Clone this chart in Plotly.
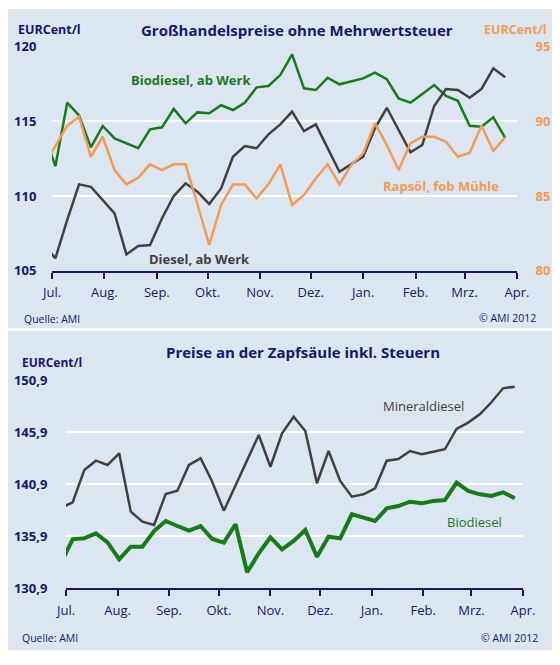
import pandas as pd
import plotly.graph_objects as go

# weekly dates (first point lies just before Jul 1 and is clipped by the axis)
wholesale_dates = pd.date_range("2011-06-26", periods=40, freq="7D")
pump_dates = pd.date_range("2011-06-28", periods=40, freq="7D")

month_ticks = ["2011-07-01", "2011-08-01", "2011-09-01", "2011-10-01", "2011-11-01",
               "2011-12-01", "2012-01-01", "2012-02-01", "2012-03-01", "2012-04-01"]
month_labels = ["Jul.", "Aug.", "Sep.", "Okt.", "Nov.", "Dez.", "Jan.", "Feb.", "Mrz.", "Apr."]

# Großhandelspreise, EURCent/l
biodiesel_werk = [114.3, 112.0, 116.25, 115.4, 113.26, 114.69, 113.86, 113.55, 113.2, 114.47,
                  114.6, 115.83, 114.87, 115.6, 115.54, 116.08, 115.76, 116.25, 117.28, 117.37,
                  118.1, 119.49, 117.21, 117.1, 117.92, 117.48, 117.66, 117.88, 118.26, 117.82,
                  116.54, 116.25, 116.83, 117.43, 116.7, 116.38, 114.71, 114.64, 115.27, 113.9]
diesel_werk = [106.8, 105.83, 108.4, 110.78, 110.62, 109.73, 108.84, 106.09, 106.65, 106.72,
               108.5, 110.0, 110.85, 110.29, 109.46, 110.51, 112.63, 113.35, 113.2, 114.13,
               114.8, 115.65, 114.35, 114.8, 113.2, 111.63, 112.14, 112.63, 114.53, 115.91,
               114.42, 112.93, 113.42, 116.03, 117.17, 117.1, 116.58, 117.17, 118.55, 117.95]
rapsoel_muehle = [87.0, 88.36, 89.71, 90.31, 87.63, 88.97, 86.74, 85.78, 86.23, 87.12,
                  86.74, 87.12, 87.12, 84.46, 81.72, 84.4, 85.78, 85.78, 84.84, 85.78,
                  87.12, 84.4, 85.07, 86.18, 87.12, 85.78, 87.08, 87.86, 89.87, 88.42,
                  86.74, 88.53, 88.97, 88.97, 88.64, 87.63, 87.9, 89.71, 88.03, 88.93]

# Preise an der Zapfsäule, EURCent/l
mineraldiesel = [138.6, 139.14, 142.25, 143.14, 142.73, 143.85, 138.24, 137.28, 136.96, 139.94,
                 140.26, 142.73, 143.37, 141.12, 138.33, 140.8, 143.2, 145.61, 142.56, 145.78,
                 147.37, 146.0, 140.97, 144.07, 141.19, 139.68, 139.91, 140.49, 143.14, 143.3,
                 144.07, 143.76, 144.0, 144.24, 146.19, 146.8, 147.6, 148.76, 150.1, 150.26]
biodiesel_pump = [133.3, 135.58, 135.68, 136.16, 135.29, 133.66, 134.87, 134.87, 136.38, 137.34,
                  136.86, 136.41, 136.86, 135.61, 135.26, 137.03, 132.41, 134.24, 135.78, 134.62,
                  135.42, 136.48, 133.91, 135.83, 135.68, 137.99, 137.66, 137.34, 138.56, 138.78,
                  139.2, 139.04, 139.27, 139.36, 141.03, 140.23, 139.91, 139.75, 140.1, 139.53]

top_ticks = [105, 110, 115, 120]
right_ticks = [80, 85, 90, 95]
pump_ticks = [130.9, 135.9, 140.9, 145.9, 150.9]
pump_labels = ["130,9", "135,9", "140,9", "145,9", "150,9"]

# the page body has an 8px margin, so the figure is 8px smaller than the window
OFF = 8
W, H = 560 - OFF, 665 - OFF
NAVY = "#16166e"
GREEN = "#187a18"
GRAY = "#404040"
ORANGE = "#f19b57"
BG = "#dce6f2"
FONT = "Open Sans"


def px(x):
    return (x - OFF) / W


def py(y):
    return 1 - (y - OFF) / H


fig = go.Figure()
fig.add_trace(go.Scatter(x=wholesale_dates, y=biodiesel_werk, mode="lines",
                         line=dict(color=GREEN, width=2.5), xaxis="x", yaxis="y"))
fig.add_trace(go.Scatter(x=wholesale_dates, y=diesel_werk, mode="lines",
                         line=dict(color=GRAY, width=2.5), xaxis="x", yaxis="y"))
fig.add_trace(go.Scatter(x=wholesale_dates, y=rapsoel_muehle, mode="lines",
                         line=dict(color=ORANGE, width=2.5), xaxis="x", yaxis="y2"))
fig.add_trace(go.Scatter(x=pump_dates, y=mineraldiesel, mode="lines",
                         line=dict(color=GRAY, width=2.5), xaxis="x2", yaxis="y3"))
fig.add_trace(go.Scatter(x=pump_dates, y=biodiesel_pump, mode="lines",
                         line=dict(color=GREEN, width=4), xaxis="x2", yaxis="y3"))

xcommon = dict(type="date", range=["2011-07-01", "2012-04-01"], tickvals=month_ticks,
               ticktext=month_labels, showgrid=False, showline=True, linecolor=NAVY,
               linewidth=2, ticks="outside", ticklen=6, tickwidth=1.5, tickcolor=NAVY,
               tickfont=dict(family=FONT, size=13, color=NAVY), ticklabelstandoff=3,
               fixedrange=True, automargin=False)
ycommon = dict(showgrid=True, gridcolor="white", gridwidth=1.5, zeroline=False,
               ticks="outside", tickcolor="rgba(0,0,0,0)", automargin=False,
               fixedrange=True)

fig.update_layout(
    width=W, height=H, margin=dict(l=0, r=0, t=0, b=0, autoexpand=False),
    paper_bgcolor="white", plot_bgcolor="rgba(0,0,0,0)", showlegend=False,
    xaxis=dict(xcommon, domain=[px(52), px(517)], anchor="y"),
    yaxis=dict(ycommon, domain=[py(270.7), py(46.7)], range=[105, 120], tickvals=top_ticks,
               ticklen=12, anchor="x",
               tickfont=dict(family=FONT, size=13, color=NAVY, weight="bold")),
    yaxis2=dict(ycommon, range=[80, 95], tickvals=right_ticks, overlaying="y", side="right",
                showgrid=False, ticklen=15, anchor="x",
                tickfont=dict(family=FONT, size=13, color=ORANGE, weight="bold")),
    xaxis2=dict(xcommon, domain=[px(66), px(523)], anchor="y3"),
    yaxis3=dict(ycommon, domain=[py(588), py(380)], range=[130.9, 150.9], tickvals=pump_ticks,
                ticktext=pump_labels, ticklen=15, anchor="x2",
                tickfont=dict(family=FONT, size=13, color=NAVY, weight="bold")),
)

# panel backgrounds
for top, bottom in [(9, 328), (331, 650)]:
    fig.add_shape(type="rect", xref="paper", yref="paper", x0=0, x1=px(557),
                  y0=py(bottom), y1=min(1, py(top)), fillcolor=BG, line_width=0,
                  layer="below")


def note(text, x, y, color, size=13, anchor="left", bold=True):
    fig.add_annotation(text=f"<b>{text}</b>" if bold else text, x=px(x), y=py(y),
                       xref="paper", yref="paper", xanchor=anchor, yanchor="middle",
                       showarrow=False, font=dict(family=FONT, size=size, color=color))


note("EURCent/l", 16, 29, NAVY, 12.5)
note("Großhandelspreise ohne Mehrwertsteuer", 297, 30, NAVY, 15, "center")
note("EURCent/l", 549, 29, ORANGE, 12.5, "right")
note("Biodiesel, ab Werk", 129, 80, GREEN, 13)
note("Diesel, ab Werk", 147, 259, GRAY, 13)
note("Rapsöl, fob Mühle", 381, 186, ORANGE, 13)
note("Quelle: AMI", 22, 319, NAVY, 10.5, bold=False)
note("© AMI 2012", 538, 318, NAVY, 10.5, "right", bold=False)

note("Preise an der Zapfsäule inkl. Steuern", 303, 352, NAVY, 15, "center")
note("EURCent/l", 20, 362, NAVY, 12)
note("Mineraldiesel", 381, 406, GRAY, 13, bold=False)
note("Biodiesel", 445, 522, GREEN, 13, bold=False)
note("Quelle: AMI", 20, 638, NAVY, 10.5, bold=False)
note("© AMI 2012", 540, 638, NAVY, 10.5, "right", bold=False)

fig.write_html("out.html")
